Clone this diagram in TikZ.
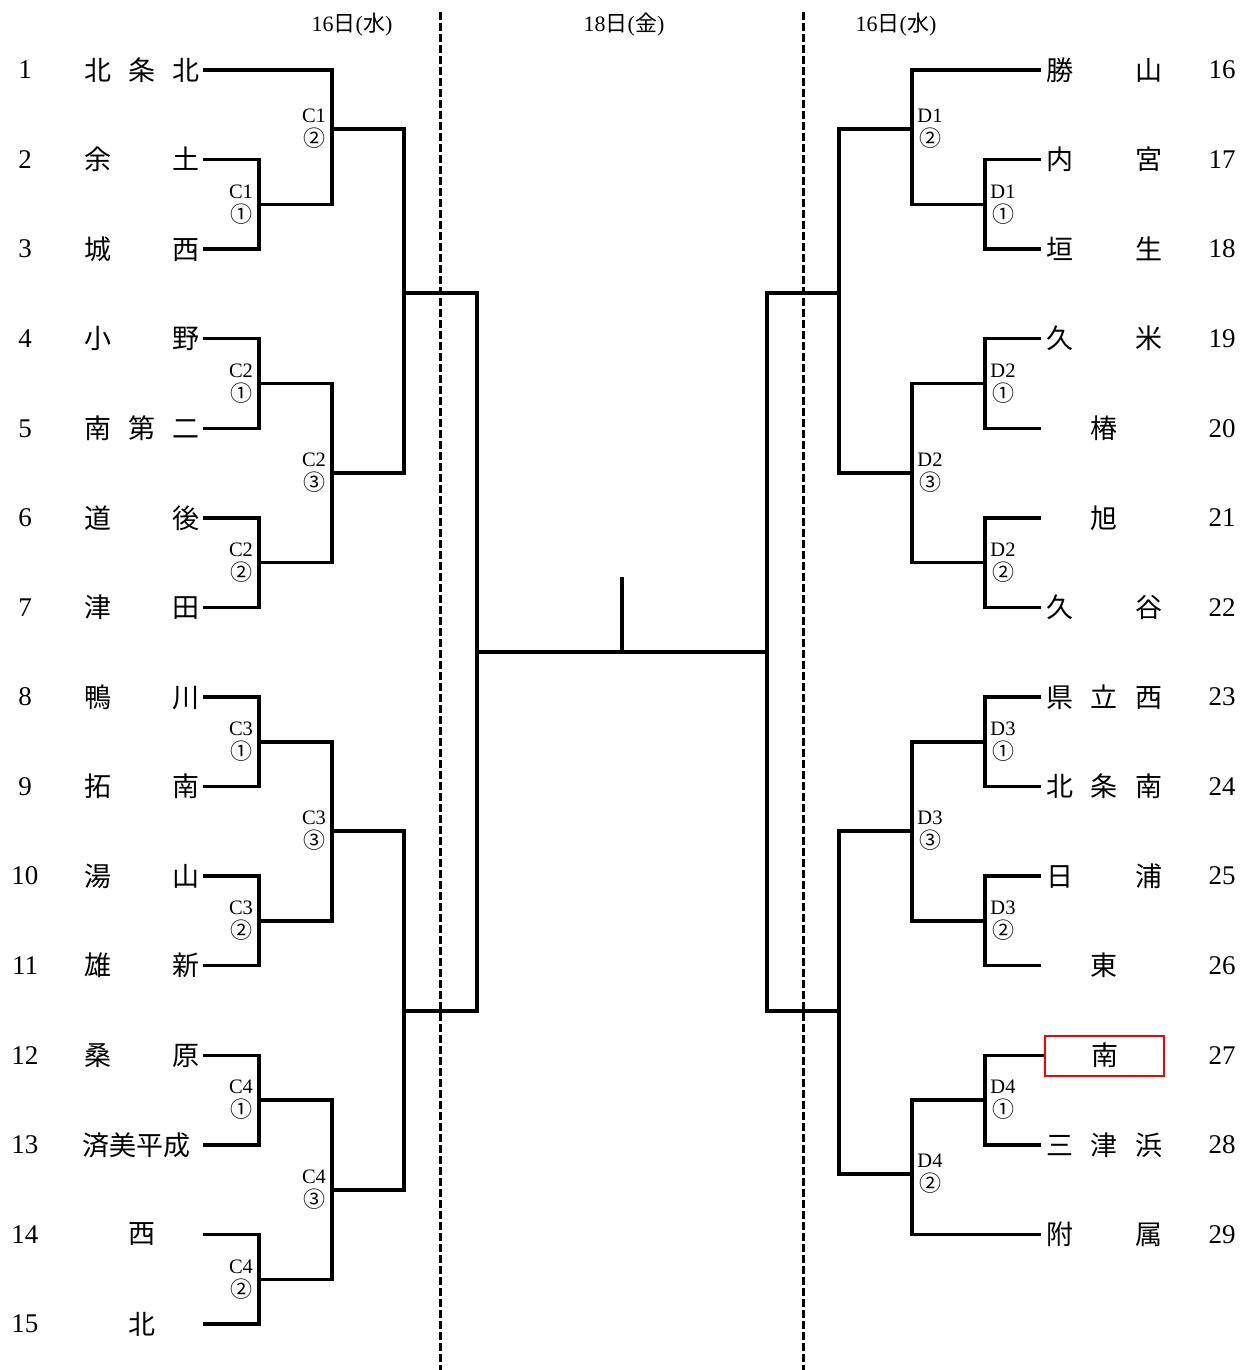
\documentclass[tikz,border=0pt]{standalone}
\usepackage{fontspec}
\setmainfont{Liberation Serif}
\newfontfamily\cjk{Noto Sans CJK JP}
\newcommand\jthree[3]{\makebox[116pt][s]{#1\hfill#2\hfill#3}}
\newcommand\jtwo[2]{\makebox[116pt][s]{#1\hfill#2}}
\newcommand\jone[1]{\makebox[116pt][c]{#1}}
\newcommand\circnum[1]{{\cjk\fontsize{22}{24}\selectfont #1}}
\begin{document}
\begin{tikzpicture}[x=1pt,y=-1pt,
  num/.style={font=\fontsize{27}{27}\selectfont, inner sep=0pt},
  lteam/.style={font=\cjk\fontsize{27}{27}\selectfont, inner ysep=0pt, inner xsep=3pt},
  rteam/.style={font=\cjk\fontsize{27}{27}\selectfont, inner ysep=0pt, inner xsep=5pt},
  lbl/.style={font=\fontsize{20.5}{24}\selectfont, align=center, inner sep=0pt},
  datelbl/.style={font=\fontsize{22}{22}\selectfont, inner sep=0pt},
  br/.style={line width=3.4pt, line join=miter},
  dashline/.style={line width=3pt, dash pattern=on 8pt off 3pt}]
\useasboundingbox (0,0) rectangle (1243,1370);

% dashed day separators
\coordinate (V1t) at (440,12); \coordinate (V1b) at (440,1370);
\coordinate (V2t) at (803,12); \coordinate (V2b) at (803,1370);
\draw[dashline] (V1t) -- (V1b);
\draw[dashline] (V2t) -- (V2b);

% date labels
\node[datelbl] (dA) at (352,25) {16{\cjk 日}({\cjk 水})};
\node[datelbl] (dB) at (624,25) {18{\cjk 日}({\cjk 金})};
\node[datelbl] (dC) at (896,25) {16{\cjk 日}({\cjk 水})};

% left numbers
\node[num] (n1) at (25,70) {1};
\node[num] (n2) at (25,159.6) {2};
\node[num] (n3) at (25,249.1) {3};
\node[num] (n4) at (25,338.7) {4};
\node[num] (n5) at (25,428.3) {5};
\node[num] (n6) at (25,517.9) {6};
\node[num] (n7) at (25,607.4) {7};
\node[num] (n8) at (25,697) {8};
\node[num] (n9) at (25,786.6) {9};
\node[num] (n10) at (25,876.1) {10};
\node[num] (n11) at (25,965.7) {11};
\node[num] (n12) at (25,1055.3) {12};
\node[num] (n13) at (25,1144.9) {13};
\node[num] (n14) at (25,1234.4) {14};
\node[num] (n15) at (25,1324) {15};

% right numbers
\node[num] (n16) at (1222,70) {16};
\node[num] (n17) at (1222,159.6) {17};
\node[num] (n18) at (1222,249.1) {18};
\node[num] (n19) at (1222,338.7) {19};
\node[num] (n20) at (1222,428.3) {20};
\node[num] (n21) at (1222,517.9) {21};
\node[num] (n22) at (1222,607.4) {22};
\node[num] (n23) at (1222,697) {23};
\node[num] (n24) at (1222,786.6) {24};
\node[num] (n25) at (1222,876.1) {25};
\node[num] (n26) at (1222,965.7) {26};
\node[num] (n27) at (1222,1055.3) {27};
\node[num] (n28) at (1222,1144.9) {28};
\node[num] (n29) at (1222,1234.4) {29};

% left teams
\node[lteam] (L1) at (142,70) {\jthree{北}{条}{北}};
\node[lteam] (L2) at (142,159.6) {\jtwo{余}{土}};
\node[lteam] (L3) at (142,249.1) {\jtwo{城}{西}};
\node[lteam] (L4) at (142,338.7) {\jtwo{小}{野}};
\node[lteam] (L5) at (142,428.3) {\jthree{南}{第}{二}};
\node[lteam] (L6) at (142,517.9) {\jtwo{道}{後}};
\node[lteam] (L7) at (142,607.4) {\jtwo{津}{田}};
\node[lteam] (L8) at (142,697) {\jtwo{鴨}{川}};
\node[lteam] (L9) at (142,786.6) {\jtwo{拓}{南}};
\node[lteam] (L10) at (142,876.1) {\jtwo{湯}{山}};
\node[lteam] (L11) at (142,965.7) {\jtwo{雄}{新}};
\node[lteam] (L12) at (142,1055.3) {\jtwo{桑}{原}};
\node[lteam] (L13) at (142,1144.9) {\makebox[116pt][r]{済美平成\hspace{10pt}}};
\node[lteam] (L14) at (142,1234.4) {\jone{西}};
\node[lteam] (L15) at (142,1324) {\jone{北}};

% right teams
\node[rteam] (R16) at (1104,70) {\jtwo{勝}{山}};
\node[rteam] (R17) at (1104,159.6) {\jtwo{内}{宮}};
\node[rteam] (R18) at (1104,249.1) {\jtwo{垣}{生}};
\node[rteam] (R19) at (1104,338.7) {\jtwo{久}{米}};
\node[rteam] (R20) at (1104,428.3) {\jone{椿}};
\node[rteam] (R21) at (1104,517.9) {\jone{旭}};
\node[rteam] (R22) at (1104,607.4) {\jtwo{久}{谷}};
\node[rteam] (R23) at (1104,697) {\jthree{県}{立}{西}};
\node[rteam] (R24) at (1104,786.6) {\jthree{北}{条}{南}};
\node[rteam] (R25) at (1104,876.1) {\jtwo{日}{浦}};
\node[rteam] (R26) at (1104,965.7) {\jone{東}};
\node[rteam, draw=red, line width=2pt, inner xsep=1.5pt, minimum width=119pt, minimum height=40pt] (R27) at (1104.5,1055.5) {\jone{南}};
\node[rteam] (R28) at (1104,1144.9) {\jthree{三}{津}{浜}};
\node[rteam] (R29) at (1104,1234.4) {\jtwo{附}{属}};

% match points
\coordinate (C11) at (259,204.3);
\coordinate (C12) at (332,129);
\coordinate (C21) at (259,383.5);
\coordinate (C22) at (259,562.6);
\coordinate (C23) at (332,473);
\coordinate (C31) at (259,741.8);
\coordinate (C32) at (259,920.9);
\coordinate (C33) at (332,831);
\coordinate (C41) at (259,1100.1);
\coordinate (C42) at (259,1279.2);
\coordinate (C43) at (332,1190);
\coordinate (LS1) at (404,293);
\coordinate (LS2) at (404,1011);
\coordinate (LF) at (477,652);
\coordinate (RF) at (767,652);
\coordinate (FM) at (622,652);
\coordinate (FT) at (622,577);
\coordinate (D11) at (985,204.3);
\coordinate (D12) at (912,129);
\coordinate (D21) at (985,383.5);
\coordinate (D22) at (985,562.6);
\coordinate (D23) at (912,473);
\coordinate (D31) at (985,741.8);
\coordinate (D32) at (985,920.9);
\coordinate (D33) at (912,831);
\coordinate (D41) at (985,1100.1);
\coordinate (D42) at (912,1174);
\coordinate (RS1) at (839,293);
\coordinate (RS2) at (839,1011);

% left bracket
\draw[br] (L2.east) -| (C11) |- (L3.east);
\draw[br] (L1.east) -| (C12) |- (C11);
\draw[br] (L4.east) -| (C21) |- (L5.east);
\draw[br] (L6.east) -| (C22) |- (L7.east);
\draw[br] (C21) -| (C23) |- (C22);
\draw[br] (C12) -| (LS1) |- (C23);
\draw[br] (L8.east) -| (C31) |- (L9.east);
\draw[br] (L10.east) -| (C32) |- (L11.east);
\draw[br] (C31) -| (C33) |- (C32);
\draw[br] (L12.east) -| (C41) |- (L13.east);
\draw[br] (L14.east) -| (C42) |- (L15.east);
\draw[br] (C41) -| (C43) |- (C42);
\draw[br] (C33) -| (LS2) |- (C43);
\draw[br] (LS1) -| (LF) |- (LS2);

% final
\draw[br] (LF) -- (RF);
\draw[br] (FM) -- (FT);

% right bracket
\draw[br] (R17.west) -| (D11) |- (R18.west);
\draw[br] (R16.west) -| (D12) |- (D11);
\draw[br] (R19.west) -| (D21) |- (R20.west);
\draw[br] (R21.west) -| (D22) |- (R22.west);
\draw[br] (D21) -| (D23) |- (D22);
\draw[br] (D12) -| (RS1) |- (D23);
\draw[br] (R23.west) -| (D31) |- (R24.west);
\draw[br] (R25.west) -| (D32) |- (R26.west);
\draw[br] (D31) -| (D33) |- (D32);
\draw[br] (R27.west) -| (D41) |- (R28.west);
\draw[br] (D41) -| (D42) |- (R29.west);
\draw[br] (D33) -| (RS2) |- (D42);
\draw[br] (RS1) -| (RF) |- (RS2);

% match labels left
\node[lbl] (lC11) at (241,204.3) {C1\\\circnum{①}};
\node[lbl] (lC12) at (314,129) {C1\\\circnum{②}};
\node[lbl] (lC21) at (241,383.5) {C2\\\circnum{①}};
\node[lbl] (lC23) at (314,473) {C2\\\circnum{③}};
\node[lbl] (lC22) at (241,562.6) {C2\\\circnum{②}};
\node[lbl] (lC31) at (241,741.8) {C3\\\circnum{①}};
\node[lbl] (lC33) at (314,831) {C3\\\circnum{③}};
\node[lbl] (lC32) at (241,920.9) {C3\\\circnum{②}};
\node[lbl] (lC41) at (241,1100.1) {C4\\\circnum{①}};
\node[lbl] (lC43) at (314,1190) {C4\\\circnum{③}};
\node[lbl] (lC42) at (241,1279.2) {C4\\\circnum{②}};

% match labels right
\node[lbl] (lD12) at (930,129) {D1\\\circnum{②}};
\node[lbl] (lD11) at (1003,204.3) {D1\\\circnum{①}};
\node[lbl] (lD21) at (1003,383.5) {D2\\\circnum{①}};
\node[lbl] (lD23) at (930,473) {D2\\\circnum{③}};
\node[lbl] (lD22) at (1003,562.6) {D2\\\circnum{②}};
\node[lbl] (lD31) at (1003,741.8) {D3\\\circnum{①}};
\node[lbl] (lD33) at (930,831) {D3\\\circnum{③}};
\node[lbl] (lD32) at (1003,920.9) {D3\\\circnum{②}};
\node[lbl] (lD41) at (1003,1100.1) {D4\\\circnum{①}};
\node[lbl] (lD42) at (930,1174) {D4\\\circnum{②}};
\end{tikzpicture}
\end{document}
